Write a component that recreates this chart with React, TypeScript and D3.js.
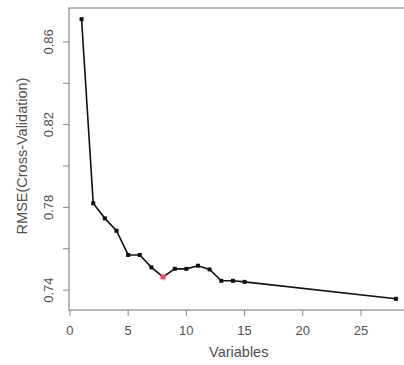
import React from "react";
import * as d3 from "d3";

const variables = [1, 2, 3, 4, 5, 6, 7, 8, 9, 10, 11, 12, 13, 14, 15, 28];
const rmse = [0.871, 0.782, 0.7747, 0.7687, 0.757, 0.757, 0.751, 0.7464, 0.7503, 0.7503, 0.7518, 0.7500, 0.7445, 0.7445, 0.744, 0.7358];
const bestIndex = 7;
const xTicks = [0, 5, 10, 15, 20, 25];
const yTicks = [0.74, 0.76, 0.78, 0.8, 0.82, 0.84, 0.86];
const yLabeled = [0.74, 0.78, 0.82, 0.86];

const W = 404;
const H = 365;
const L = 69, R = 408.5, T = 8, B = 310;

export default function App() {
  const xr = d3.extent(variables) as [number, number];
  const yr = d3.extent(rmse) as [number, number];
  const xpad = (xr[1] - xr[0]) * 0.04;
  const ypad = (yr[1] - yr[0]) * 0.04;
  const x = d3.scaleLinear().domain([xr[0] - xpad, xr[1] + xpad]).range([L, R]);
  const y = d3.scaleLinear().domain([yr[0] - ypad, yr[1] + ypad]).range([B, T]);
  const pts = variables.map((v, i) => [x(v), y(rmse[i])] as [number, number]);
  const line = d3.line()(pts) || "";
  const axisCol = "#888";
  const textCol = "#505050";
  const font = "Liberation Sans, Arial, sans-serif";
  return (
    <svg width={W} height={H} style={{ position: "absolute", left: 0, top: 0, background: "#fff" }}>
      <rect x={L} y={T} width={R - L} height={B - T} fill="none" stroke={axisCol} strokeWidth={1.2} />
      {xTicks.map((t) => (
        <g key={"x" + t}>
          <line x1={x(t)} x2={x(t)} y1={B} y2={B + 6} stroke={axisCol} strokeWidth={1} />
          <text x={x(t)} y={335} fontSize={13} fill={textCol} textAnchor="middle" fontFamily={font}>{t}</text>
        </g>
      ))}
      {yTicks.map((t) => (
        <g key={"y" + t}>
          <line x1={L - 6} x2={L} y1={y(t)} y2={y(t)} stroke={axisCol} strokeWidth={1} />
          {yLabeled.some((v) => Math.abs(v - t) < 1e-9) && (
            <text transform={`translate(${L - 16},${y(t)}) rotate(-90)`} fontSize={13} fill={textCol} textAnchor="middle" fontFamily={font}>{t.toFixed(2)}</text>
          )}
        </g>
      ))}
      <text x={(L + R) / 2} y={357} fontSize={14.5} fill={textCol} textAnchor="middle" fontFamily={font}>Variables</text>
      <text transform={`translate(27,${(T + B) / 2 - 3}) rotate(-90)`} fontSize={14.5} fill={textCol} textAnchor="middle" fontFamily={font}>RMSE(Cross-Validation)</text>
      <path d={line} fill="none" stroke="#111" strokeWidth={1.6} />
      {pts.map((p, i) => (
        <rect key={i} x={p[0] - 2} y={p[1] - 2} width={4} height={4} fill={i === bestIndex ? "#d0405a" : "#111"} />
      ))}
      <circle cx={pts[bestIndex][0]} cy={pts[bestIndex][1]} r={3.5} fill="#e06080" opacity={0.5} />
    </svg>
  );
}
